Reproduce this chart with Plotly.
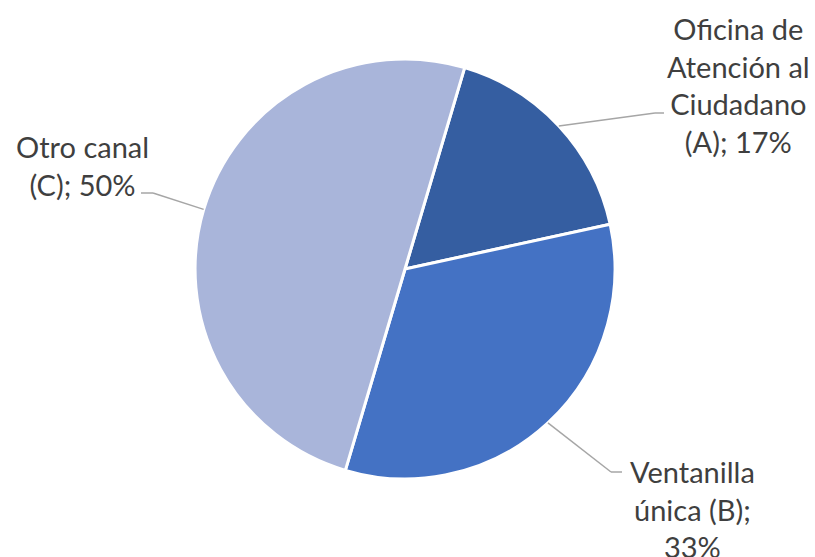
import math
import plotly.graph_objects as go

# Data
names = ["Oficina de Atención al Ciudadano (A)", "Ventanilla única (B)", "Otro canal (C)"]
values = [17, 33, 50]
colors = ["#355EA1", "#4472C4", "#A9B5DA"]

W, H = 815, 557
cx, cy, R = 405, 269, 210
rotation = 16.5

fig = go.Figure(go.Pie(
    labels=names, values=values, sort=False, direction="clockwise",
    rotation=rotation, textinfo="none", hoverinfo="label+percent",
    marker=dict(colors=colors, line=dict(color="white", width=3)),
    domain=dict(x=[(cx - R) / W, (cx + R) / W], y=[(H - cy - R) / H, (H - cy + R) / H]),
    showlegend=False,
))

total = sum(values)
pcts = [round(v / total * 100) for v in values]
texts = [
    f"Oficina de<br>Atención al<br>Ciudadano<br>(A); {pcts[0]}%",
    f"Ventanilla<br>única (B);<br>{pcts[1]}%",
    f"Otro canal<br>(C); {pcts[2]}%",
]
# label block centres (px) and leader bend/end points (px)
label_pos = [(738, 85), (692, 509), (82, 165)]
bends = [[(655, 113), (664, 113)], [(611, 472), (622, 472)], [(153, 193), (141, 193)]]

font = dict(family="Lato, Calibri, sans-serif", size=29, color="#3F3F3F")
annotations = []
shapes = []

def px2paper(x, y):
    return x / W, 1 - y / H

start = rotation
for i, v in enumerate(values):
    span = v / total * 360
    mid = math.radians(start + span / 2)
    start += span
    ex, ey = cx + R * math.sin(mid), cy - R * math.cos(mid)
    pts = [(ex, ey)] + bends[i]
    for (x0, y0), (x1, y1) in zip(pts[:-1], pts[1:]):
        a0 = px2paper(x0, y0); a1 = px2paper(x1, y1)
        shapes.append(dict(type="line", xref="paper", yref="paper",
                           x0=a0[0], y0=a0[1], x1=a1[0], y1=a1[1],
                           line=dict(color="#A6A6A6", width=1.5)))
    lx, ly = px2paper(*label_pos[i])
    annotations.append(dict(text=texts[i], x=lx, y=ly, xref="paper", yref="paper",
                            xanchor="center", yanchor="middle", align="center",
                            showarrow=False, font=font))

fig.update_layout(
    width=W, height=H, margin=dict(l=0, r=0, t=0, b=0),
    paper_bgcolor="white", plot_bgcolor="white",
    annotations=annotations, shapes=shapes,
)
fig.write_html("out.html")
